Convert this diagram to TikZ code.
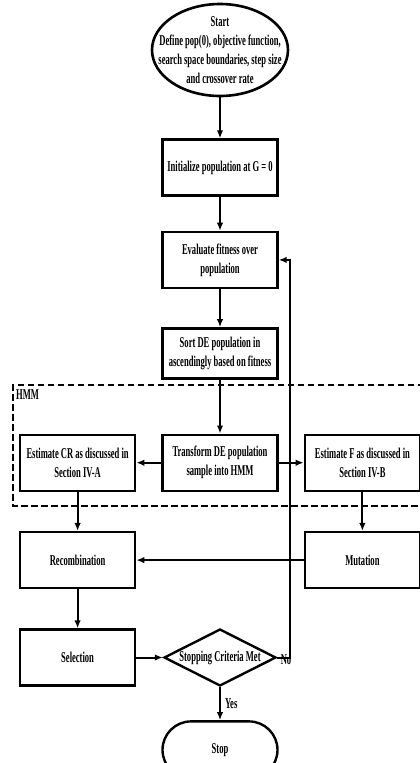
\documentclass[tikz,border=0pt]{standalone}
\usepackage{fontspec}
\setmainfont{Liberation Serif}[FakeStretch=0.57]
\usepackage{tikz}
\usetikzlibrary{arrows.meta,positioning,shapes.geometric}

\begin{document}
\begin{tikzpicture}[x=1pt,y=1pt,
  node distance=34pt and 25pt,
  font=\bfseries\fontsize{15}{19}\selectfont,
  b/.style={draw,line width=2.4pt,align=center,minimum width=115pt,minimum height=56pt,inner sep=2pt},
  t/.style={align=center,inner sep=0pt},
  ar/.style={-{Latex[length=8pt,width=6.5pt]},line width=2pt},
  hmm/.style={line width=2.8pt,dash pattern=on 6.5pt off 3.5pt}]
\useasboundingbox (0,0) rectangle (420,-763);
% start and main column
\node[draw,ellipse,line width=2.6pt,minimum width=136pt,minimum height=92pt,inner sep=0pt] (start) at (220,-50) {};
\node[t] (startlbl) at (start) {Start\\Define pop(0), objective function,\\search space boundaries, step size\\and crossover rate};
\node[b,below=41pt of start] (init) {Initialize population at G = 0};
\node[b,below=of init] (eval) {Evaluate fitness over\\population};
\node[b,below=38pt of eval,minimum height=50pt] (sort) {Sort DE population in\\ascendingly based on fitness};
\node[b,below=54pt of sort] (trans) {Transform DE population\\sample into HMM};
\node[b,left=of trans] (estcr) {Estimate CR as discussed in\\Section IV-A};
\node[b,right=of trans] (estf) {Estimate F as discussed in\\Section IV-B};
\node[b,below=39pt of estcr] (recomb) {Recombination};
\node[b,below=39pt of estf] (mut) {Mutation};
\node[b,below=39pt of recomb] (sel) {Selection};
\node[draw,diamond,line width=2.4pt,minimum width=112pt,minimum height=57pt,inner sep=0pt] (dec) at (trans |- sel) {};
\node[t] (declbl) at (dec) {Stopping Criteria Met};
\node[b,rounded corners=28.5pt,minimum height=57pt,below=33pt of dec] (stop) {Stop};
% HMM frame
\draw[hmm] (424,-385) -- (13,-385) -- (13,-506) -- (424,-506);
\node[t,anchor=north west] (hmmlbl) at (16,-389) {HMM};
% connectors
\draw[ar] (start)--(init); \draw[ar] (init)--(eval); \draw[ar] (eval)--(sort);
\draw[ar] (sort)--(trans); \draw[ar] (trans)--(estcr); \draw[ar] (trans)--(estf);
\draw[ar] (estcr)--(recomb); \draw[ar] (estf)--(mut); \draw[ar] (mut)--(recomb);
\draw[ar] (recomb)--(sel); \draw[ar] (sel)--(dec);
\draw[ar] (dec)--(stop) node[t,midway,right=4pt] (yes) {Yes};
\draw[ar] (dec.east) -- ++(12.5,0) |- (eval.east);
\node[t] (no) at (286,-660) {No};
\end{tikzpicture}
\end{document}
